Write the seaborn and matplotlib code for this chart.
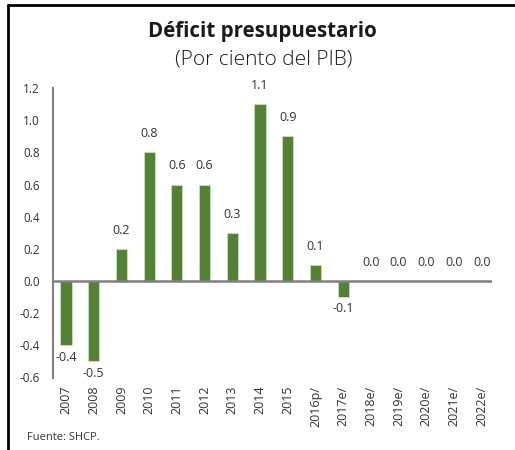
import matplotlib
matplotlib.use("Agg")
import matplotlib.pyplot as plt
from matplotlib.lines import Line2D
import seaborn as sns
import pandas as pd

# Budget deficit, percent of GDP
years = ["2007", "2008", "2009", "2010", "2011", "2012", "2013", "2014",
         "2015", "2016p/", "2017e/", "2018e/", "2019e/", "2020e/", "2021e/", "2022e/"]
deficit = [-0.4, -0.5, 0.2, 0.8, 0.6, 0.6, 0.3, 1.1,
           0.9, 0.1, -0.1, 0.0, 0.0, 0.0, 0.0, 0.0]
y_ticks = [-0.6, -0.4, -0.2, 0.0, 0.2, 0.4, 0.6, 0.8, 1.0, 1.2]

df = pd.DataFrame({"year": years, "deficit": deficit})

sns.set_theme(style="white")
plt.rcParams["font.family"] = ["Open Sans", "DejaVu Sans"]

GREEN = "#548235"
GRAY = "#808080"
TEXT = "#333333"

fig = plt.figure(figsize=(5.15, 4.5), dpi=100)
ax = fig.add_axes([53 / 515, 1 - 377.5 / 450, (492 - 53) / 515, (377.5 - 88) / 450])

sns.barplot(data=df, x="year", y="deficit", order=years, color=GREEN,
            width=0.4, saturation=1, edgecolor="#cfe0c3", linewidth=0.6, ax=ax)

ax.set_xlim(-0.47, 15.37)
ax.set_ylim(-0.6, 1.2)
ax.set_yticks(y_ticks)
ax.set_yticklabels([f"{v:.1f}" for v in y_ticks])
ax.set_xlabel("")
ax.set_ylabel("")

ax.tick_params(axis="y", length=0, pad=9.5, labelsize=8.5, labelcolor=TEXT)
ax.tick_params(axis="x", length=0, pad=6, labelsize=9, labelcolor=TEXT, rotation=90)
for lbl in ax.get_xticklabels():
    lbl.set_va("top")

for s in ["top", "right", "bottom"]:
    ax.spines[s].set_visible(False)
ax.spines["left"].set_color(GRAY)
ax.spines["left"].set_linewidth(1.5)
ax.axhline(0, color=GRAY, linewidth=1.8, zorder=3)

# value labels at the end of each bar
for i, v in enumerate(deficit):
    if v >= 0:
        ax.annotate(f"{v:.1f}", (i, v), xytext=(0, 13.5), textcoords="offset points",
                    ha="center", va="center", fontsize=9, color=TEXT)
    else:
        ax.annotate(f"{v:.1f}", (i, v), xytext=(0, -8.5), textcoords="offset points",
                    ha="center", va="center", fontsize=9, color=TEXT)

fig.text(262 / 515, 1 - 31 / 450, "Déficit presupuestario", ha="center", va="center",
         fontsize=14.8, fontweight="bold", color="#1a1a1a")
fig.text(264 / 515, 1 - 59 / 450, "(Por ciento del PIB)", ha="center", va="center",
         fontsize=15, fontweight="light", color="#1a1a1a")
fig.text(27 / 515, 1 - 437 / 450, "Fuente: SHCP.", ha="left", va="center",
         fontsize=8, color=TEXT)

# frame lines on the left and top edges
fig.add_artist(Line2D([7.5 / 515, 7.5 / 515], [0, 1 - 4.5 / 450], color="black",
                      linewidth=2, transform=fig.transFigure))
fig.add_artist(Line2D([7.5 / 515, 1], [1 - 4.5 / 450, 1 - 4.5 / 450], color="black",
                      linewidth=2, transform=fig.transFigure))

fig.savefig("out.png", dpi=100)
